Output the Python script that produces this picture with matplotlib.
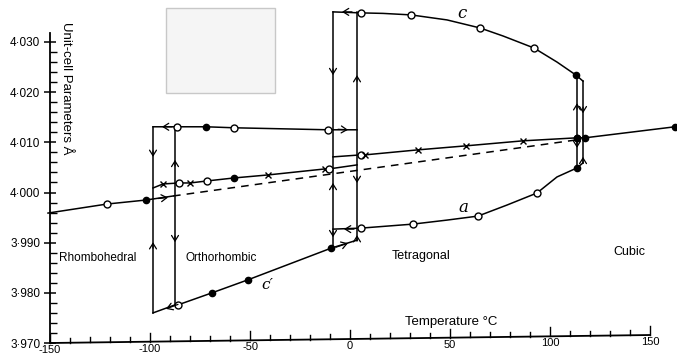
import matplotlib
matplotlib.use('Agg')
import matplotlib.pyplot as plt
import numpy as np
from matplotlib.patches import Rectangle
from matplotlib.ticker import FixedLocator, FuncFormatter

plt.rcParams['font.family'] = ['Liberation Sans', 'DejaVu Sans']

# rhombohedral / cubic straight line (dashed through the middle)
rhomb_T = [-151, -121.5, -102, -88.5]
rhomb_v = [3.9959, 3.9977, 3.9985, 3.9993]
dash_T = [-88.5, 113.5]
dash_v = [3.9993, 4.0105]
cubic_T = [113.5, 117.5, 162.5]
cubic_v = [4.0109, 4.0109, 4.0131]

# orthorhombic upper branch
orth_up_T = [-98.5, -86.5, -72, -58, -11, 3.5]
orth_up_v = [4.0131, 4.0131, 4.0131, 4.0129, 4.0125, 4.0125]
orth_up_m = ['', 'o', '.', 'o', 'o', '']

# orthorhombic lower branch (crosses)
orth_lo_T = [-98.5, -93.5, -85.5, -80, -71.5, -58, -41, -12.5, -10.5, 3.5]
orth_lo_v = [4.0009, 4.0017, 4.0019, 4.0019, 4.0023, 4.0029, 4.0035, 4.0047, 4.0047, 4.0055]
orth_lo_m = ['', 'x', 'o', 'x', 'o', '.', 'x', 'x', 'o', '']

# tetragonal crosses line
tet_x_T = [-8.5, 5.5, 7.5, 34, 58, 86.5, 113.5]
tet_x_v = [4.0071, 4.0075, 4.0075, 4.0085, 4.0093, 4.0103, 4.0109]
tet_x_m = ['', 'o', 'x', 'x', 'x', 'x', '.']

# c' (orthorhombic)
cp_T = [-98.5, -87.5, -86, -69, -51, -9.5, 3.5]
cp_v = [3.9760, 3.9776, 3.9776, 3.9800, 3.9826, 3.9889, 3.9905]
cp_m = ['', '', 'o', '.', '.', '.', '']

# c (tetragonal)
c_T = [-8.5, 5.5, 16.5, 30.5, 48.5, 65, 76.5, 92, 103.5, 113, 116.5]
c_v = [4.0360, 4.0358, 4.0357, 4.0354, 4.0344, 4.0328, 4.0312, 4.0288, 4.0260, 4.0234, 4.0222]
c_m = ['', 'o', '', 'o', '', 'o', '', 'o', '', '.', '']

# a (tetragonal)
a_T = [-8.5, 5.5, 31.5, 48.5, 64, 78.5, 93.5, 103.5, 113.5, 116.5]
a_v = [3.9927, 3.9929, 3.9937, 3.9945, 3.9953, 3.9975, 3.9999, 4.0031, 4.0049, 4.0059]
a_m = ['', 'o', 'o', '', 'o', '', 'o', '', '.', '']

# vertical transition lines
vert_T = [-98.5, -87.5, -8.5, 3.5, 113.5, 116.5]
vert_lo = [3.9760, 3.9776, 3.9889, 3.9905, 4.0049, 4.0059]
vert_hi = [4.0131, 4.0131, 4.0360, 4.0360, 4.0234, 4.0222]

# arrows: (from T, from v, to T, to v)
arrows = [
    (-96, 3.9988, -91, 3.9990),
    (-89, 4.0131, -94, 4.0131),
    (-6, 4.0126, -1, 4.0125),
    (1, 4.0360, -4, 4.0360),
    (2, 3.9927, -3, 3.9927),
    (-86, 3.9777, -92, 3.9768),
    (-7, 3.9891, -1, 3.9899),
    (-98.5, 4.0083, -98.5, 4.0071),
    (-98.5, 3.9889, -98.5, 3.9901),
    (-87.5, 4.0053, -87.5, 4.0065),
    (-87.5, 3.9913, -87.5, 3.9901),
    (-8.5, 4.0246, -8.5, 4.0234),
    (-8.5, 4.0007, -8.5, 4.0019),
    (-8.5, 3.9923, -8.5, 3.9911),
    (3.5, 4.0222, 3.5, 4.0234),
    (3.5, 4.0031, 3.5, 4.0019),
    (3.5, 3.9903, 3.5, 3.9915),
    (113.5, 4.0166, 113.5, 4.0178),
    (113.5, 4.0101, 113.5, 4.0089),
    (116.5, 4.0170, 116.5, 4.0158),
    (116.5, 4.0059, 116.5, 4.0071),
]

yticks = np.arange(3.970, 4.0301, 0.010)
xticks = np.arange(-150, 151, 50)
xminor = np.arange(-150, 151, 10)

fig = plt.figure(figsize=(6.77, 3.55), dpi=100)
ax = fig.add_axes([0, 0, 1, 1])
ax.set_xlim(-175, 163.5)
ax.set_ylim(3.96761, 4.03837)

lw = 1.1
px = (4.03837 - 3.96761) / 355  # one pixel in data units (y)


def series(T, v, kinds=None, ls='-'):
    ax.plot(T, v, color='k', lw=lw, ls=ls, zorder=2)
    if kinds is None:
        return
    for t, y, k in zip(T, v, kinds):
        if k == 'o':
            ax.plot(t, y, 'o', ms=5, mfc='white', mec='k', mew=1.0, zorder=3)
        elif k == '.':
            ax.plot(t, y, 'o', ms=4.5, color='k', zorder=3)
        elif k == 'x':
            ax.plot(t, y, 'x', ms=4, color='k', mew=1.0, zorder=3)


series(rhomb_T, rhomb_v, ['', 'o', '.', ''])
series(dash_T, dash_v, ls=(0, (5, 4)))
series(cubic_T, cubic_v, ['.', '.', '.'])
series(orth_up_T, orth_up_v, orth_up_m)
series(orth_lo_T, orth_lo_v, orth_lo_m)
series(tet_x_T, tet_x_v, tet_x_m)
series(cp_T, cp_v, cp_m)
series(c_T, c_v, c_m)
series(a_T, a_v, a_m)

for t, lo, hi in zip(vert_T, vert_lo, vert_hi):
    ax.plot([t, t], [lo, hi], color='k', lw=lw, zorder=2)

for t0, v0, t1, v1 in arrows:
    ax.annotate('', xy=(t1, v1), xytext=(t0, v0),
                arrowprops=dict(arrowstyle='->, head_length=0.4, head_width=0.25',
                                lw=0.9, color='k', shrinkA=0, shrinkB=0,
                                mutation_scale=10), zorder=3)

# light grey box in the reference
ax.add_patch(Rectangle((-92, 4.01983), 54.5, 0.01685, facecolor='#f5f5f5',
                       edgecolor='#c8c8c8', lw=1.0, zorder=0.5))

# y axis
for s in ['top', 'right', 'bottom']:
    ax.spines[s].set_visible(False)
ax.spines['left'].set_position(('data', -150))
ax.spines['left'].set_bounds(3.970, 4.0318)
ax.spines['left'].set_linewidth(1.3)
ax.yaxis.set_major_locator(FixedLocator(yticks))
ax.yaxis.set_minor_locator(FixedLocator(np.arange(3.970, 4.0311, 0.002)))
ax.yaxis.set_major_formatter(FuncFormatter(lambda v, p: f'{v:.3f}'.replace('.', '·')))
ax.tick_params(axis='y', which='major', direction='inout', length=9, width=1.1,
               labelsize=8.5, pad=2.5)
ax.tick_params(axis='y', which='minor', direction='in', length=5, width=1.0)
ax.set_xticks([])

# temperature axis (drawn slightly tilted, as in the scanned original)
def base(t):
    return 3.970 + (t + 150) / 300 * 8 * px

ax.plot([-150, 150], [base(-150), base(150)], color='k', lw=1.3, zorder=2,
        solid_capstyle='butt')
for t in xminor:
    h = 9 if t in xticks else 5
    ax.plot([t, t], [base(t), base(t) + h * px], color='k', lw=1.0, zorder=2)
for t in xticks:
    ax.text(t, base(t) - 7 * px, f'{t:.0f}', ha='center', va='center',
            fontsize=8)

ax.text(-142, 4.0208, 'Unit-cell Parameters Å', rotation=270, ha='center',
        va='center', fontsize=9.5)
ax.text(50.5, 3.9742, 'Temperature °C', ha='center', va='center', fontsize=9.5)

ax.text(-126, 3.9869, 'Rhombohedral', ha='center', va='center', fontsize=8.5)
ax.text(-64.5, 3.9869, 'Orthorhombic', ha='center', va='center', fontsize=8.5)
ax.text(35.5, 3.9873, 'Tetragonal', ha='center', va='center', fontsize=9)
ax.text(139.5, 3.9881, 'Cubic', ha='center', va='center', fontsize=9)

ax.text(56, 4.0356, 'c', style='italic', ha='center', va='center', fontsize=12,
        family='DejaVu Serif')
ax.text(56.5, 3.9971, 'a', style='italic', ha='center', va='center', fontsize=12,
        family='DejaVu Serif')
ax.text(-41.5, 3.9816, "c′", style='italic', ha='center', va='center', fontsize=11,
        family='DejaVu Serif')

fig.savefig('out.png', dpi=100)
